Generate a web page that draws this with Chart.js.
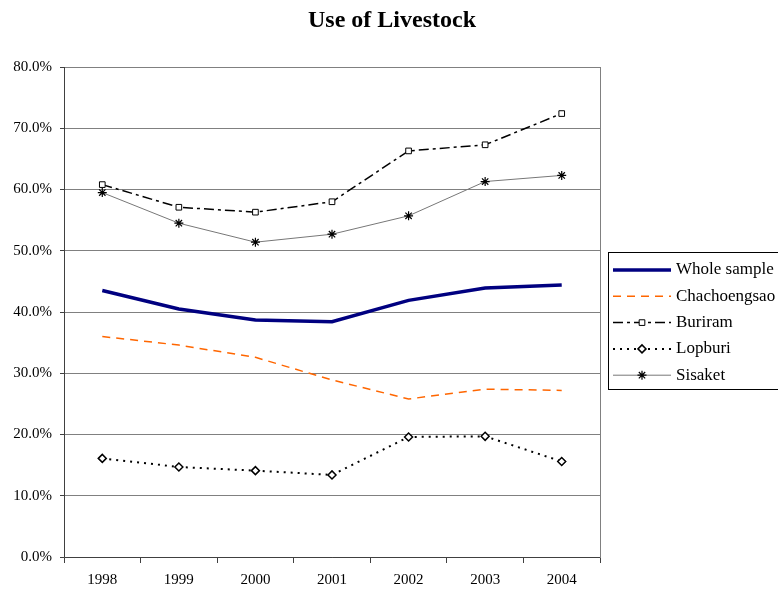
<!DOCTYPE html>
<html>
<head>
<meta charset="utf-8">
<title>Use of Livestock</title>
<script src="https://cdn.jsdelivr.net/npm/chart.js@4.4.0/dist/chart.umd.min.js"></script>
<style>
  html, body { margin: 0; padding: 0; background: #fff; }
  #wrap { width: 778px; height: 591px; position: relative; }
</style>
</head>
<body>
<div id="wrap"><canvas id="livestock-chart" width="778" height="591"></canvas></div>
<script>
const years = ["1998", "1999", "2000", "2001", "2002", "2003", "2004"];
const wholeSample = [0.435, 0.405, 0.387, 0.384, 0.419, 0.439, 0.444];
const chachoengsao = [0.360, 0.346, 0.326, 0.289, 0.258, 0.274, 0.272];
const buriram = [0.608, 0.571, 0.563, 0.580, 0.663, 0.673, 0.724];
const lopburi = [0.161, 0.147, 0.141, 0.134, 0.196, 0.197, 0.156];
const sisaket = [0.595, 0.545, 0.514, 0.527, 0.557, 0.613, 0.623];

const serif = "'Liberation Serif', 'DejaVu Serif', serif";

// title, plot frame and legend box are painted by hand
const framePlugin = {
  id: "frame",
  afterDraw(chart) {
    const ctx = chart.ctx;
    const a = chart.chartArea;
    ctx.save();

    ctx.fillStyle = "#000";
    ctx.font = "bold 24px " + serif;
    ctx.textAlign = "center";
    ctx.textBaseline = "middle";
    ctx.fillText("Use of Livestock", 392, 21);

    ctx.strokeStyle = "#808080";
    ctx.lineWidth = 1;
    ctx.strokeRect(a.left + 0.5, a.top + 0.5, a.right - a.left, a.bottom - a.top);
    ctx.strokeStyle = "#404040";
    ctx.beginPath();
    ctx.moveTo(a.left + 0.5, a.top);
    ctx.lineTo(a.left + 0.5, a.bottom + 0.5);
    ctx.lineTo(a.right, a.bottom + 0.5);
    ctx.stroke();

    // legend
    const bx = 608, by = 252, bw = 172, bh = 137;
    ctx.strokeStyle = "#000";
    ctx.strokeRect(bx + 0.5, by + 0.5, bw, bh);
    ctx.font = "17px " + serif;
    ctx.textAlign = "left";
    chart.data.datasets.forEach((ds, i) => {
      const y = by + 18 + i * 26.3;
      ctx.save();
      ctx.strokeStyle = ds.borderColor;
      ctx.lineWidth = ds.borderWidth;
      ctx.setLineDash(ds.borderDash || []);
      ctx.beginPath();
      ctx.moveTo(613, y);
      ctx.lineTo(671, y);
      ctx.stroke();
      ctx.restore();
      if (ds.pointStyle && ds.pointRadius > 0) {
        ctx.save();
        ctx.setLineDash([]);
        ctx.fillStyle = ds.pointBackgroundColor;
        ctx.strokeStyle = ds.pointBorderColor;
        ctx.lineWidth = ds.pointBorderWidth;
        Chart.helpers.drawPoint(ctx, {
          pointStyle: ds.pointStyle,
          radius: ds.pointRadius,
          rotation: 0,
          borderWidth: ds.pointBorderWidth
        }, 642, y);
        ctx.restore();
      }
      ctx.fillStyle = "#000";
      ctx.fillText(ds.label, 676, y);
    });
    ctx.restore();
  }
};

const pct = v => (v * 100).toFixed(1) + "%";

new Chart(document.getElementById("livestock-chart").getContext("2d"), {
  type: "line",
  data: {
    labels: years,
    datasets: [
      {
        label: "Whole sample",
        data: wholeSample,
        borderColor: "#000080",
        borderWidth: 3.5,
        pointRadius: 0,
        pointStyle: false
      },
      {
        label: "Chachoengsao",
        data: chachoengsao,
        borderColor: "#ff6600",
        borderWidth: 1.5,
        borderDash: [8, 6],
        pointRadius: 0,
        pointStyle: false
      },
      {
        label: "Buriram",
        data: buriram,
        borderColor: "#000",
        borderWidth: 1.5,
        borderDash: [10, 4, 3, 4],
        pointStyle: "rect",
        pointRadius: 4,
        pointBorderWidth: 1,
        pointBorderColor: "#000",
        pointBackgroundColor: "#fff"
      },
      {
        label: "Lopburi",
        data: lopburi,
        borderColor: "#000",
        borderWidth: 2,
        borderDash: [2, 5],
        pointStyle: "rectRot",
        pointRadius: 4,
        pointBorderWidth: 1.5,
        pointBorderColor: "#000",
        pointBackgroundColor: "#fff"
      },
      {
        label: "Sisaket",
        data: sisaket,
        borderColor: "#777",
        borderWidth: 1,
        pointStyle: "star",
        pointRadius: 4.5,
        pointBorderWidth: 1.2,
        pointBorderColor: "#000",
        pointBackgroundColor: "#000"
      }
    ]
  },
  options: {
    responsive: false,
    animation: false,
    events: [],
    layout: { padding: { top: 67, right: 178, bottom: 0, left: 0 } },
    elements: { line: { tension: 0 } },
    plugins: {
      legend: { display: false },
      title: { display: false },
      tooltip: { enabled: false }
    },
    scales: {
      x: {
        offset: true,
        grid: {
          offset: true,
          drawOnChartArea: false,
          drawTicks: true,
          tickLength: 6,
          color: "#404040"
        },
        border: { display: false },
        ticks: {
          color: "#000",
          font: { family: serif, size: 15 },
          padding: 8,
          maxRotation: 0
        },
        afterFit(scale) { scale.height = 34; }
      },
      y: {
        min: 0,
        max: 0.8,
        grid: {
          color: "#808080",
          lineWidth: 1,
          tickLength: 4,
          tickColor: "#404040"
        },
        border: { display: false },
        ticks: {
          stepSize: 0.1,
          color: "#000",
          font: { family: serif, size: 15 },
          padding: 8,
          callback: v => pct(v)
        },
        afterFit(scale) { scale.width = 64; }
      }
    }
  },
  plugins: [framePlugin]
});
</script>
</body>
</html>
